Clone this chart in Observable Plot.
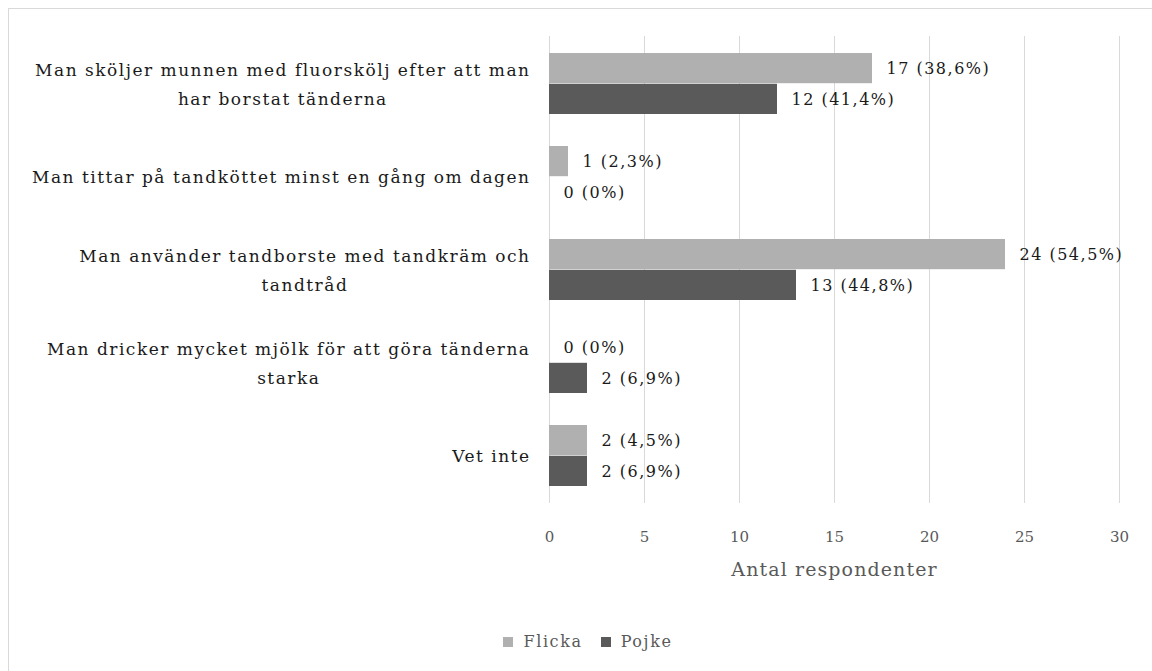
<!DOCTYPE html>
<html>
<head>
<meta charset="utf-8">
<script src="https://cdn.jsdelivr.net/npm/d3@7"></script>
<script src="https://cdn.jsdelivr.net/npm/@observablehq/plot@0.6"></script>
<style>
  body { margin: 0; background: #fff; }
  #frame { position: absolute; left: 8px; top: 8px; width: 1144px; height: 663px;
           border-left: 1px solid #d9d9d9; border-top: 1px solid #d9d9d9; box-sizing: border-box; }
  #chart { position: absolute; left: 0; top: 0; }
  #legend { position: absolute; left: 0; top: 632px; width: 1152px; padding-left: 24px; box-sizing: border-box;
            display: flex; justify-content: center;
            font-family: "DejaVu Serif", serif; font-size: 16px; letter-spacing: 1.6px; color: #595959; line-height: 20px; }
  #legend span.sw { display: inline-block; width: 10px; height: 10px; margin-right: 10px; }
  #legend span.item { display: flex; align-items: center; margin: 0 9px; }
  .cat-axis text { letter-spacing: 1.5px; }
  .bar-label text, text.bar-label { letter-spacing: 1.5px; }
</style>
</head>
<body>
<div id="frame"></div>
<div id="chart"></div>
<div id="legend"></div>
<script>
// Answers to "Vad gör man för att ta hand om tänderna?" split by gender
const categories = [
  "Man sköljer munnen med fluorskölj efter att man\nhar borstat tänderna",
  "Man tittar på tandköttet minst en gång om dagen",
  "Man använder tandborste med tandkräm och\ntandtråd",
  "Man dricker mycket mjölk för att göra tänderna\nstarka",
  "Vet inte"
];
const series = ["Flicka", "Pojke"];
const flicka = [17, 1, 24, 0, 2];
const pojke = [12, 0, 13, 2, 2];
const flickaPct = ["38,6", "2,3", "54,5", "0", "4,5"];
const pojkePct = ["41,4", "0", "44,8", "6,9", "6,9"];
const xTicks = [0, 5, 10, 15, 20, 25, 30];
const colors = ["#b0b0b0", "#5a5a5a"];

const rows = [];
categories.forEach((c, i) => {
  rows.push({cat: c, group: "Flicka", n: flicka[i], pct: flickaPct[i]});
  rows.push({cat: c, group: "Pojke", n: pojke[i], pct: pojkePct[i]});
});
const girls = rows.filter(d => d.group === "Flicka");
const boys = rows.filter(d => d.group === "Pojke");

const half = 30.8; // half of the category band: each series fills one half
const font = "DejaVu Serif, serif";

const chart = Plot.plot({
  width: 1152,
  height: 620,
  marginLeft: 549,
  marginRight: 33,
  marginTop: 36,
  marginBottom: 117,
  style: {fontFamily: font, background: "transparent"},
  x: {domain: [0, 30], ticks: xTicks},
  y: {domain: categories, paddingInner: 0.34, paddingOuter: 0.17},
  marks: [
    Plot.gridX(xTicks, {stroke: "#d9d9d9", strokeOpacity: 1, strokeWidth: 1}),
    Plot.barX(girls, {x: "n", y: "cat", fill: colors[0], insetBottom: half}),
    Plot.barX(boys, {x: "n", y: "cat", fill: colors[1], insetTop: half}),
    Plot.text(girls, {x: "n", y: "cat", dy: -half / 2, dx: 14, textAnchor: "start",
      text: d => `${d.n} (${d.pct}%)`, fill: "#1a1a1a", fontSize: 16, className: "bar-label"}),
    Plot.text(boys, {x: "n", y: "cat", dy: half / 2, dx: 14, textAnchor: "start",
      text: d => `${d.n} (${d.pct}%)`, fill: "#1a1a1a", fontSize: 16, className: "bar-label"}),
    Plot.axisX({ticks: xTicks, tickSize: 0, tickPadding: 28, fontSize: 15, color: "#595959",
      label: "Antal respondenter", labelAnchor: "center", labelOffset: 72, labelArrow: "none"}),
    Plot.axisY({tickSize: 0, tickPadding: 19, fontSize: 17, color: "#1a1a1a", lineHeight: 1.72,
      dy: -3, label: null, className: "cat-axis"})
  ]
});
document.getElementById("chart").appendChild(chart);

// center wrapped category lines on each other, keeping the block right-aligned
chart.querySelectorAll(".cat-axis text").forEach(t => {
  const spans = t.querySelectorAll("tspan");
  if (spans.length < 2) return;
  const w = Math.max(...Array.from(spans, s => s.getComputedTextLength()));
  const x0 = +(t.getAttribute("x") || 0);
  t.setAttribute("text-anchor", "middle");
  t.setAttribute("x", x0 - w / 2);
  spans.forEach(s => s.setAttribute("x", x0 - w / 2));
});

// axis title: plain text, larger
const labels = chart.querySelectorAll("[aria-label='x-axis label'] text, text[aria-label='x-axis label']");
labels.forEach(t => {
  t.textContent = t.textContent.replace(/\s*[→←]\s*/g, "");
  t.style.fontSize = "19px";
  t.style.letterSpacing = "1.1px";
});

document.getElementById("legend").innerHTML = series.map((s, i) =>
  `<span class="item"><span class="sw" style="background:${colors[i]}"></span>${s}</span>`).join("");
</script>
</body>
</html>
